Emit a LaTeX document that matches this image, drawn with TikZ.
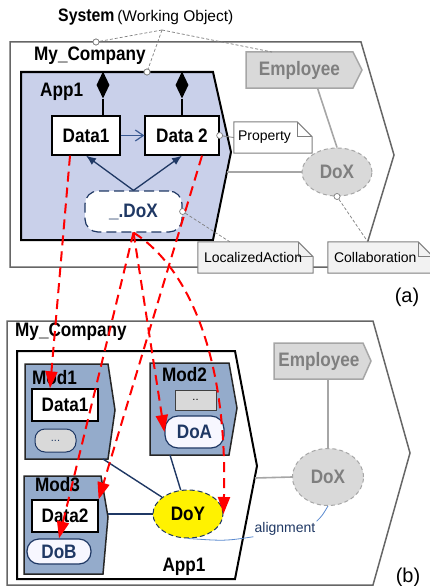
\documentclass[tikz,border=0pt]{standalone}
\usepackage{fontspec}
\setmainfont{Liberation Sans}
\newfontfamily\narrowfont[FakeStretch=0.88]{Liberation Sans}
\usetikzlibrary{arrows.meta,shapes.geometric}
\definecolor{navy}{HTML}{1F3864}
\definecolor{appblue}{HTML}{C9D0EA}
\definecolor{modblue}{HTML}{94ABCB}
\definecolor{lgray}{HTML}{D9D9D9}
\definecolor{mgray}{HTML}{A6A6A6}
\definecolor{tgray}{HTML}{7F7F7F}
\definecolor{outergray}{HTML}{666666}
\definecolor{notefill}{HTML}{F2F2F2}
\definecolor{alblue}{HTML}{5B8BD0}
\definecolor{arrblue}{HTML}{3A5A92}
\begin{document}
\begin{tikzpicture}[x=1pt,y=-1pt,
  lbl/.style={font=\narrowfont\bfseries\fontsize{19.5}{21}\selectfont, inner sep=0pt},
  outerline/.style={draw=outergray, line width=1.5pt, line join=miter},
  appline/.style={draw=black, line width=2pt, line join=miter},
  modline/.style={draw=black!85, line width=1.5pt, fill=modblue},
  databox/.style={lbl, draw=black, line width=1.3pt, fill=white},
  dobox/.style={lbl, text=navy, draw=navy, fill=white, line width=1.2pt, rounded corners=13pt},
  notebox/.style={font=\fontsize{14}{15}\selectfont, inner sep=0pt, minimum height=31pt},
  noteline/.style={draw=tgray, line width=1pt},
  smallcirc/.style={circle, draw=tgray, fill=white, inner sep=0pt, minimum size=6pt, line width=0.7pt},
  dotline/.style={draw=tgray, line width=0.7pt, dash pattern=on 3pt off 2pt},
  grayline/.style={draw=mgray, line width=1.6pt},
  navyline/.style={draw=navy, line width=1.4pt},
  blueup/.style={draw=navy, line width=1.3pt, -{Latex[length=10pt,width=8pt]}},
  openarr/.style={draw=arrblue, line width=1.2pt, -{Straight Barb[length=8pt,width=11pt]}},
  redarr/.style={draw=red, line width=2pt, dash pattern=on 10pt off 6pt, -{Triangle[length=17pt,width=12pt]}},
  doxgray/.style={ellipse, lbl, text=tgray, fill=lgray, draw=mgray, line width=1pt, dash pattern=on 4pt off 3pt},
  empbox/.style={draw=mgray, fill=lgray, line width=1.5pt},
  diam/.style={diamond, fill=black, inner sep=0pt, minimum width=13pt, minimum height=27pt}
]
\useasboundingbox (0,0) rectangle (430,586);

% ================= (a) =================
\draw[outerline, fill=white] (10,42) -- (361,42) -- (394,155) -- (360,267) -- (10,267) -- cycle;
\node[lbl, anchor=west] (comp1) at (34,56) {My\_Company};
\draw[appline, fill=appblue] (21,72) -- (213,72) -- (231,152) -- (213,240) -- (21,240) -- cycle;
\node[lbl, anchor=west] (app1a) at (40,92) {App1};
\coordinate (app1r) at (227,172);

% title and working-object links
\node[inner sep=0pt, anchor=west] (sys) at (58,17) {{\narrowfont\bfseries\fontsize{18}{19}\selectfont System} {\fontsize{15.5}{17}\selectfont(Working Object)}};
\coordinate (sysp) at (162,30);

% Employee (a)
\draw[empbox] (246,52) -- (353,52) -- (362,70) -- (353,88) -- (246,88) -- cycle;
\node[lbl, text=tgray, minimum width=107pt, minimum height=36pt] (emp1) at (299.5,70) {Employee};

\node[smallcirc] (c0) at (96,42) {};
\node[smallcirc] (c1) at (147,72) {};
\coordinate (c2) at (272,52);
\draw[dotline] (sysp) -- (c0);
\draw[dotline] (sysp) -- (c1);
\draw[dotline] (sysp) -- (c2);
\node[smallcirc] at (96,42) {};
\node[smallcirc] at (147,72) {};

% diamonds and data
\node[diam] (dia1) at (103,85) {};
\node[diam] (dia2) at (182,85) {};
\node[databox, minimum width=68pt, minimum height=39pt] (d1) at (86,135.5) {Data1};
\node[databox, minimum width=74pt, minimum height=39pt] (d2) at (182,135.5) {Data 2};
\draw[line width=1.3pt] (dia1.south) -- (dia1.south |- d1.north);
\draw[line width=1.3pt] (dia2.south) -- (dia2.south |- d2.north);
\draw[openarr] (d1.east) -- (d2.west);

% _.DoX
\node[dobox, dash pattern=on 10pt off 5pt, minimum width=97pt, minimum height=41pt] (ldox) at (133.5,211.5) {\_.DoX};
\draw[blueup] (ldox.north) -- (d1.south);
\draw[blueup] (ldox.north) -- (d2.south);

% notes
\node[notebox, minimum width=78pt] (prop) at (273,137.5) {};
\draw[noteline, fill=white] (prop.south west) -- (prop.north west) -- ([xshift=-15pt]prop.north east) -- ([yshift=-15pt]prop.north east) -- (prop.south east) -- cycle;
\draw[noteline] ([xshift=-15pt]prop.north east) -- ([xshift=-15pt,yshift=-15pt]prop.north east) -- ([yshift=-15pt]prop.north east);
\node[notebox, anchor=west] at ([xshift=4pt]prop.west) {Property};

\node[notebox, minimum width=115pt] (loc) at (255.5,257.5) {};
\draw[noteline, fill=notefill] (loc.south west) -- (loc.north west) -- ([xshift=-15pt]loc.north east) -- ([yshift=-15pt]loc.north east) -- (loc.south east) -- cycle;
\draw[noteline] ([xshift=-15pt]loc.north east) -- ([xshift=-15pt,yshift=-15pt]loc.north east) -- ([yshift=-15pt]loc.north east);
\node[notebox, anchor=west] at ([xshift=6pt]loc.west) {LocalizedAction};

\node[notebox, minimum width=105pt] (col) at (380.5,257.5) {};
\draw[noteline, fill=notefill] (col.south west) -- (col.north west) -- ([xshift=-15pt]col.north east) -- ([yshift=-15pt]col.north east) -- (col.south east) -- cycle;
\draw[noteline] ([xshift=-15pt]col.north east) -- ([xshift=-15pt,yshift=-15pt]col.north east) -- ([yshift=-15pt]col.north east);
\node[notebox, anchor=west] at ([xshift=6pt]col.west) {Collaboration};

% DoX (a)
\node[doxgray, minimum width=70pt, minimum height=48pt] (dox1) at (337,172) {DoX};
\draw[grayline] (app1r) -- (dox1.west);
\draw[grayline] ([xshift=18pt]emp1.south) -- (dox1.north);

% small circles with dotted links
\node[smallcirc] (cp) at (d2.east) {};
\draw[draw=tgray, line width=0.8pt] (cp) -- (prop.west);
\node[smallcirc] (cl) at (ldox.east) {};
\draw[dotline] (cl) -- ([xshift=32pt]loc.north west);
\node[smallcirc] (cx) at (dox1.south) {};
\draw[dotline] (cx) -- ([xshift=40pt]col.north west);

\node[font=\fontsize{20}{21}\selectfont, inner sep=0pt] (la) at (407,297) {(a)};

% ================= (b) =================
\draw[outerline, fill=white] (7,321) -- (373,321) -- (410,453) -- (373,585) -- (7,585) -- cycle;
\node[lbl, anchor=west] (comp2) at (15,332) {My\_Company};
\draw[appline, fill=white] (17,351) -- (235,351) -- (257,466) -- (235,579) -- (17,579) -- cycle;
\node[lbl] (app1b) at (184,567) {App1};
\coordinate (app1br) at (255,478);

% Mod1
\draw[modline] (25,364) -- (108,364) -- (115,410) -- (108,459) -- (25,459) -- cycle;
\node[lbl, anchor=west] (mod1) at (32,378) {Mod1};
\node[databox, minimum width=66pt, minimum height=32pt] (d1b) at (65,405) {Data1};
\node[draw=navy, fill=lgray, line width=1pt, rounded corners=10pt, minimum width=41pt, minimum height=23pt, inner sep=0pt, text=navy, font=\fontsize{11}{12}\selectfont] (dots1) at (55.5,440.5) {...};
\coordinate (m1b) at (103,459);

% Mod2
\draw[modline] (150,363) -- (229,363) -- (237,408) -- (229,455) -- (150,455) -- cycle;
\node[lbl, anchor=west] (mod2) at (162,375) {Mod2};
\node[draw=black!75, fill=lgray, line width=1pt, minimum width=41pt, minimum height=20pt, inner sep=0pt, font=\fontsize{11}{12}\selectfont] (dots2) at (195.5,400) {..};
\node[dobox, fill=white!97!blue, minimum width=59pt, minimum height=32pt] (doa) at (194.5,432) {DoA};
\coordinate (m2b) at (170,455);

% Mod3
\draw[modline] (24,476) -- (101,476) -- (108,517) -- (103,574) -- (24,574) -- cycle;
\node[lbl, anchor=west] (mod3) at (35,485) {Mod3};
\node[databox, minimum width=66pt, minimum height=32pt] (d2b) at (65,516) {Data2};
\node[dobox, fill=white!97!blue, rounded corners=12pt, minimum width=64pt, minimum height=25pt] (dob) at (59,551.5) {DoB};
\coordinate (m3r) at (108,514);

% DoY
\node[ellipse, lbl, fill=yellow, draw=navy, line width=1pt, dash pattern=on 5pt off 3pt, minimum width=70pt, minimum height=48pt] (doy) at (188,514) {DoY};
\draw[navyline] (m1b) -- (doy);
\draw[navyline] (m2b) -- (doy);
\draw[navyline] (m3r) -- (doy.west);

% Employee (b) and DoX (b)
\draw[empbox] (274,343) -- (363,343) -- (371,361) -- (363,379) -- (274,379) -- cycle;
\node[lbl, text=tgray, minimum width=89pt, minimum height=36pt] (emp2) at (319,361) {Employee};
\node[doxgray, minimum width=71pt, minimum height=57pt] (dox2) at (328,477) {DoX};
\draw[grayline] (app1br) -- (dox2.west);
\draw[grayline] (dox2.north |- emp2.south) -- (dox2.north);

% alignment
\node[font=\fontsize{14}{15}\selectfont, text=navy, inner sep=1pt] (algn) at (285,529) {alignment};
\draw[draw=alblue, line width=0.8pt] (doy.south) .. controls (225,541) .. (algn.south west);
\draw[draw=alblue, line width=0.8pt] (algn.north east) .. controls (322,516) .. (dox2.south);

\node[font=\fontsize{20}{21}\selectfont, inner sep=0pt] (lb) at (408,577) {(b)};

% ================= red mapping arrows =================
\draw[redarr] ([xshift=-16pt]d1.south) -- ([xshift=-15pt]d1b.north);
\draw[redarr] ([xshift=20pt]d2.south) -- (d2b.north east);
\draw[redarr] (ldox.south) -- (dob.north);
\draw[redarr] (ldox.south) -- (doa.west);
\draw[redarr] (ldox.south) .. controls (185,265) and (228,350) .. (doy.east);

\end{tikzpicture}
\end{document}
